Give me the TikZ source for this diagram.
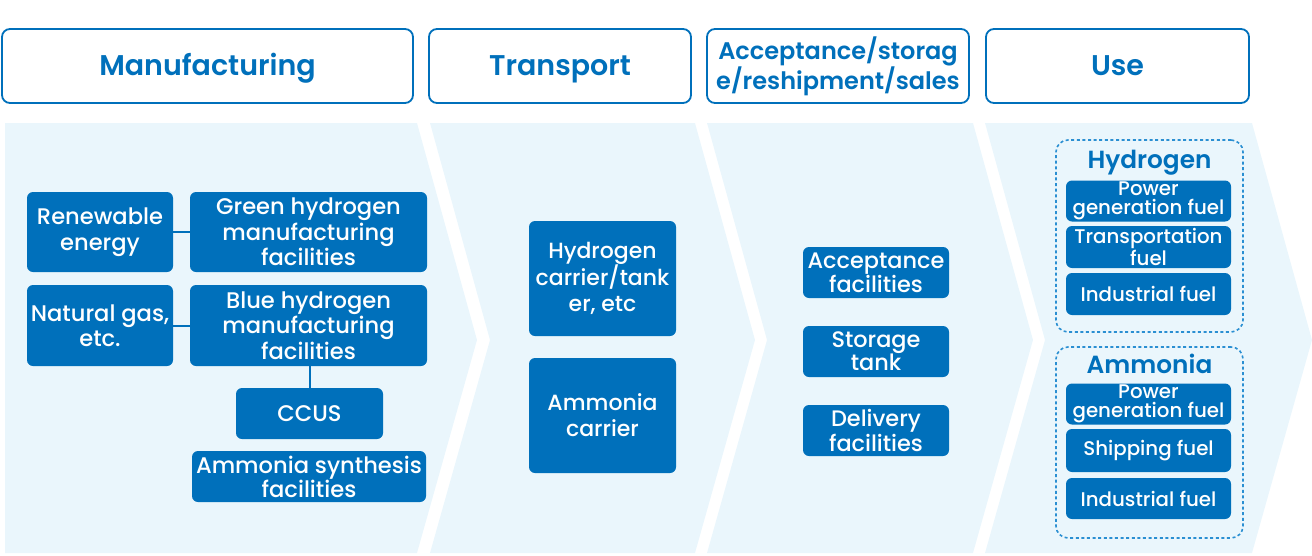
\documentclass[tikz,border=0pt]{standalone}
\usepackage{fontspec}
\IfFontExistsTF{Poppins Medium}{\setmainfont{Poppins Medium}[BoldFont=Poppins SemiBold]}{\setmainfont{Poppins}}
\definecolor{dblue}{HTML}{0070BB}
\definecolor{band}{HTML}{EAF6FC}
\definecolor{dash}{HTML}{2A8FD2}
\tikzset{
  bx/.style={fill=dblue, text=white, rounded corners=6pt, align=center, inner sep=0pt, font=\fontsize{22.6}{25.5}\selectfont},
  smallbx/.style={bx, font=\fontsize{19.8}{19.5}\selectfont},
  hdr/.style={draw=dblue, line width=1.8pt, fill=white, rounded corners=8pt, text=dblue, align=center, inner sep=0pt, font=\bfseries\fontsize{28.5}{30}\selectfont},
  onehdr/.style={hdr, text height=19pt, text depth=0pt},
  grp/.style={draw=dash, line width=1.6pt, dash pattern=on 3pt off 2.6pt, rounded corners=12pt, inner sep=0pt},
  grptitle/.style={text=dblue, font=\bfseries\fontsize{24.8}{26}\selectfont, inner sep=0pt, text height=17pt, text depth=0pt},
  link/.style={draw=dblue, line width=2pt},
  bandfill/.style={fill=band}
}
\begin{document}
\begin{tikzpicture}[x=1pt,y=-1pt]
\useasboundingbox (0,0) rectangle (1312,555);
% bands
\fill[bandfill] (5,123) -- (417,123) -- (477,340) -- (417,553) -- (5,553) -- cycle;
\fill[bandfill] (430,123) -- (695,123) -- (755,340) -- (695,553) -- (430,553) -- (490,340) -- cycle;
\fill[bandfill] (707,123) -- (973,123) -- (1033,340) -- (973,553) -- (707,553) -- (767,340) -- cycle;
\fill[bandfill] (985,123) -- (1252,123) -- (1312,340) -- (1252,553) -- (985,553) -- (1045,340) -- cycle;
% headers
\node[onehdr, minimum width=411pt, minimum height=74pt] (hman) at (207.5,66) {Manufacturing};
\node[onehdr, minimum width=262pt, minimum height=74pt] (htr) at (560,66) {Transport};
\node[hdr, minimum width=262pt, minimum height=74pt, font=\bfseries\fontsize{24}{30}\selectfont] (hacc) at (838,66) {Acceptance/storag\\e/reshipment/sales};
\node[onehdr, minimum width=263pt, minimum height=74pt] (huse) at (1117.5,66) {Use};
% manufacturing
\node[bx, minimum width=146pt, minimum height=80pt] (ren) at (100,232) {Renewable\\energy};
\node[bx, minimum width=237pt, minimum height=80pt] (green) at (308.5,232) {Green hydrogen\\manufacturing\\facilities};
\node[bx, minimum width=146pt, minimum height=81pt] (nat) at (100,325.5) {Natural gas,\\etc.};
\node[bx, minimum width=237pt, minimum height=81pt] (blue) at (308.5,325.5) {Blue hydrogen\\manufacturing\\facilities};
\node[bx, minimum width=147pt, minimum height=51pt] (ccus) at (309.5,413.5) {CCUS};
\node[bx, minimum width=234pt, minimum height=51pt, font=\fontsize{22.6}{24}\selectfont] (amsyn) at (309,476.5) {Ammonia synthesis\\facilities};
\draw[link] (ren) -- (green);
\draw[link] (nat) -- (blue);
\draw[link] (blue.south -| ccus.north) -- (ccus.north);
% transport
\node[bx, minimum width=147pt, minimum height=115pt, font=\fontsize{22}{26}\selectfont] (hcar) at (602.5,278.5) {Hydrogen\\carrier/tank\\er, etc};
\node[bx, minimum width=147pt, minimum height=115pt, font=\fontsize{22}{26}\selectfont] (acar) at (602.5,415.5) {Ammonia\\carrier};
% acceptance
\node[bx, minimum width=146pt, minimum height=51pt, font=\fontsize{22.4}{23}\selectfont] (accf) at (876,272.5) {Acceptance\\facilities};
\node[bx, minimum width=146pt, minimum height=51pt, font=\fontsize{22.4}{23}\selectfont] (stor) at (876,351.5) {Storage\\tank};
\node[bx, minimum width=146pt, minimum height=51pt, font=\fontsize{22.4}{23}\selectfont] (deliv) at (876,430.5) {Delivery\\facilities};
% use
\node[grp, minimum width=187pt, minimum height=192pt] (hgrp) at (1149.5,236) {};
\node[grp, minimum width=187pt, minimum height=191pt] (agrp) at (1149.5,442.5) {};
\node[grptitle] (htitle) at (1149.5,160) {Hydrogen};
\node[grptitle] (atitle) at (1149.5,365) {Ammonia};
\node[smallbx, minimum width=165pt, minimum height=41pt] (hp) at (1148.5,201) {Power\\generation fuel};
\node[smallbx, minimum width=165pt, minimum height=42pt] (ht) at (1148.5,247) {Transportation\\fuel};
\node[smallbx, minimum width=165pt, minimum height=42pt] (hi) at (1148.5,294) {Industrial fuel};
\node[smallbx, minimum width=165pt, minimum height=41pt] (ap) at (1148.5,404) {Power\\generation fuel};
\node[smallbx, minimum width=165pt, minimum height=43pt] (as) at (1148.5,450.5) {Shipping fuel};
\node[smallbx, minimum width=165pt, minimum height=41pt] (ai) at (1148.5,498.5) {Industrial fuel};
\end{tikzpicture}
\end{document}
